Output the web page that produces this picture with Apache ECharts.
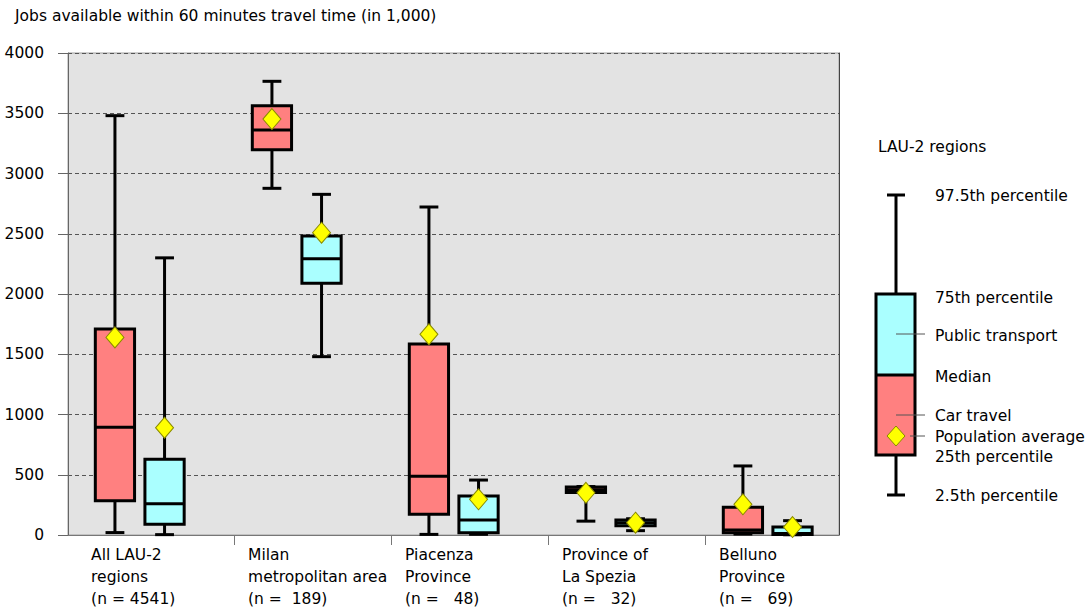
<!DOCTYPE html>
<html>
<head>
<meta charset="utf-8">
<script src="https://cdn.jsdelivr.net/npm/echarts@6/dist/echarts.min.js"></script>
<style>
html,body{margin:0;padding:0;background:#fff;}
#chart{width:1092px;height:615px;}
</style>
</head>
<body>
<div id="chart"></div>
<script>
// ---- Data (values in 1,000 jobs) ----
const categories = [
  'All LAU-2\nregions\n(n = 4541)',
  'Milan\nmetropolitan area\n(n =  189)',
  'Piacenza\nProvince\n(n =   48)',
  'Province of\nLa Spezia\n(n =   32)',
  'Belluno\nProvince\n(n =   69)'
];
const yTicks = [0, 500, 1000, 1500, 2000, 2500, 3000, 3500, 4000];

// Car travel
const carMin  = [20, 2877, 5, 115, 8];
const carQ1   = [285, 3198, 172, 352, 19];
const carMed  = [895, 3361, 487, 375, 41];
const carQ3   = [1710, 3563, 1585, 398, 230];
const carMax  = [3480, 3765, 2722, 402, 573];
const carMean = [1640, 3452, 1666, 350, 255];

// Public transport
const ptMin  = [3, 1480, 6, 36, 2];
const ptQ1   = [89, 2089, 19, 76, 5];
const ptMed  = [260, 2293, 124, 102, 12];
const ptQ3   = [628, 2481, 324, 124, 66];
const ptMax  = [2300, 2827, 456, 135, 119];
const ptMean = [890, 2509, 296, 102, 66];

// ---- Layout constants (x axis in category units) ----
const GROUP_SHIFT = 0.4;   // pair centre inside a category slot
const SERIES_OFF = 0.158;  // half distance between the two boxes
const BOX_W = 0.25;
const CAP_W = 0.12;
const LABEL_SHIFT = 0.09;
const FONT = '"DejaVu Sans", sans-serif';
const FS = 15.5;

function rows(mn, q1, md, q3, mx, off) {
  return categories.map((c, i) => [i + GROUP_SHIFT + off, mn[i], q1[i], md[i], q3[i], mx[i]]);
}
function meanRows(mean, off) {
  return categories.map((c, i) => [i + GROUP_SHIFT + off, mean[i]]);
}

function renderBox(fill) {
  return function (params, api) {
    const x = api.value(0);
    const unit = api.size([1, 0])[0];
    const hw = BOX_W * unit / 2, cw = CAP_W * unit / 2;
    const pMin = api.coord([x, api.value(1)]);
    const pQ1 = api.coord([x, api.value(2)]);
    const pMed = api.coord([x, api.value(3)]);
    const pQ3 = api.coord([x, api.value(4)]);
    const pMax = api.coord([x, api.value(5)]);
    const cx = pMin[0];
    const ls = { stroke: '#000', lineWidth: 3 };
    return {
      type: 'group',
      children: [
        { type: 'line', shape: { x1: cx, y1: pMax[1], x2: cx, y2: pQ3[1] }, style: ls },
        { type: 'line', shape: { x1: cx, y1: pQ1[1], x2: cx, y2: pMin[1] }, style: ls },
        { type: 'line', shape: { x1: cx - cw, y1: pMax[1], x2: cx + cw, y2: pMax[1] }, style: ls },
        { type: 'line', shape: { x1: cx - cw, y1: pMin[1], x2: cx + cw, y2: pMin[1] }, style: ls },
        { type: 'rect', shape: { x: cx - hw, y: pQ3[1], width: 2 * hw, height: pQ1[1] - pQ3[1] },
          style: { fill: fill, stroke: '#000', lineWidth: 3 } },
        { type: 'line', shape: { x1: cx - hw, y1: pMed[1], x2: cx + hw, y2: pMed[1] }, style: ls }
      ]
    };
  };
}

const chart = echarts.init(document.getElementById('chart'), null, { renderer: 'svg' });

// Legend drawing (decoration, fixed layout on the right)
const LX = 896, TX = 935;
const legendText = [
  ['97.5th percentile', 196], ['75th percentile', 298], ['Public transport', 336],
  ['Median', 377], ['Car travel', 416], ['Population average', 437],
  ['25th percentile', 457], ['2.5th percentile', 496]
];
const graphics = [
  { type: 'text', x: 878, y: 147, style: { text: 'LAU-2 regions', fill: '#000', font: FS + 'px ' + FONT, verticalAlign: 'middle' } },
  { type: 'line', shape: { x1: LX, y1: 195, x2: LX, y2: 294 }, style: { stroke: '#000', lineWidth: 3 } },
  { type: 'line', shape: { x1: LX, y1: 455, x2: LX, y2: 495 }, style: { stroke: '#000', lineWidth: 3 } },
  { type: 'line', shape: { x1: 887, y1: 195, x2: 905, y2: 195 }, style: { stroke: '#000', lineWidth: 3 } },
  { type: 'line', shape: { x1: 887, y1: 495, x2: 905, y2: 495 }, style: { stroke: '#000', lineWidth: 3 } },
  { type: 'rect', shape: { x: 876, y: 294, width: 39, height: 81 }, style: { fill: '#AAFFFF' } },
  { type: 'rect', shape: { x: 876, y: 375, width: 39, height: 80 }, style: { fill: '#FF8080' } },
  { type: 'rect', shape: { x: 876, y: 294, width: 39, height: 161 }, style: { fill: 'none', stroke: '#000', lineWidth: 3 } },
  { type: 'line', shape: { x1: 876, y1: 375, x2: 915, y2: 375 }, style: { stroke: '#000', lineWidth: 3 } },
  { type: 'line', shape: { x1: LX, y1: 334, x2: 925, y2: 334 }, style: { stroke: '#555', lineWidth: 1 } },
  { type: 'line', shape: { x1: LX, y1: 415, x2: 925, y2: 415 }, style: { stroke: '#555', lineWidth: 1 } },
  { type: 'line', shape: { x1: 910, y1: 436, x2: 925, y2: 436 }, style: { stroke: '#555', lineWidth: 1 } },
  { type: 'polygon', shape: { points: [[LX, 426], [LX + 9, 436], [LX, 446], [LX - 9, 436]] },
    style: { fill: '#FFFF00', stroke: '#8a8a00', lineWidth: 1 } }
].concat(legendText.map(t => ({
  type: 'text', x: TX, y: t[1],
  style: { text: t[0], fill: '#000', font: FS + 'px ' + FONT, verticalAlign: 'middle' }
})));

const option = {
  animation: false,
  backgroundColor: '#fff',
  title: {
    text: 'Jobs available within 60 minutes travel time (in 1,000)',
    left: 10, top: 3,
    textStyle: { fontFamily: FONT, fontSize: FS, fontWeight: 'normal', color: '#000' }
  },
  grid: {
    left: 68, right: 1092 - 839, top: 53, bottom: 615 - 535,
    show: true, backgroundColor: '#E3E3E3', borderColor: '#a0a0a0', borderWidth: 1
  },
  xAxis: {
    type: 'value',
    min: -0.057, max: 4.854,
    splitLine: { show: false },
    axisLine: { show: true, onZero: false, lineStyle: { color: '#777', width: 1 } },
    axisTick: { show: true, length: 10, customValues: [1, 2, 3, 4], lineStyle: { color: '#777' } },
    axisLabel: {
      show: true,
      customValues: categories.map((c, i) => i + LABEL_SHIFT),
      formatter: function (v) { return categories[Math.round(v - LABEL_SHIFT)] || ''; },
      align: 'left', verticalAlign: 'top', lineHeight: 22, margin: 9,
      fontFamily: FONT, fontSize: FS, color: '#000'
    }
  },
  yAxis: [{
    type: 'value', min: 0, max: 4000, interval: 500,
    axisLine: { show: true, onZero: false, lineStyle: { color: '#666' } },
    axisTick: { show: true, length: 10, lineStyle: { color: '#666' } },
    axisLabel: { margin: 24, fontFamily: FONT, fontSize: FS, color: '#000',
      formatter: function (v) { return yTicks.indexOf(v) >= 0 ? String(v) : ''; } },
    splitLine: { show: true, lineStyle: { color: '#555', type: [4, 3], width: 1 } }
  }, {
    type: 'value', min: 0, max: 4000, position: 'right',
    axisLine: { show: true, onZero: false, lineStyle: { color: '#444' } },
    axisTick: { show: false }, axisLabel: { show: false }, splitLine: { show: false }
  }],
  series: [
    { name: 'Car travel', type: 'custom', renderItem: renderBox('#FF8080'),
      data: rows(carMin, carQ1, carMed, carQ3, carMax, -SERIES_OFF),
      encode: { x: 0, y: [1, 2, 3, 4, 5] }, clip: false, z: 2 },
    { name: 'Public transport', type: 'custom', renderItem: renderBox('#AAFFFF'),
      data: rows(ptMin, ptQ1, ptMed, ptQ3, ptMax, SERIES_OFF),
      encode: { x: 0, y: [1, 2, 3, 4, 5] }, clip: false, z: 2 },
    { name: 'Car mean', type: 'scatter', symbol: 'diamond', symbolSize: [18, 21],
      data: meanRows(carMean, -SERIES_OFF), z: 5,
      itemStyle: { color: '#FFFF00', borderColor: '#8a8a00', borderWidth: 1, opacity: 1 } },
    { name: 'PT mean', type: 'scatter', symbol: 'diamond', symbolSize: [18, 21],
      data: meanRows(ptMean, SERIES_OFF), z: 5,
      itemStyle: { color: '#FFFF00', borderColor: '#8a8a00', borderWidth: 1, opacity: 1 } }
  ],
  graphic: { elements: graphics }
};
chart.setOption(option);
</script>
</body>
</html>
